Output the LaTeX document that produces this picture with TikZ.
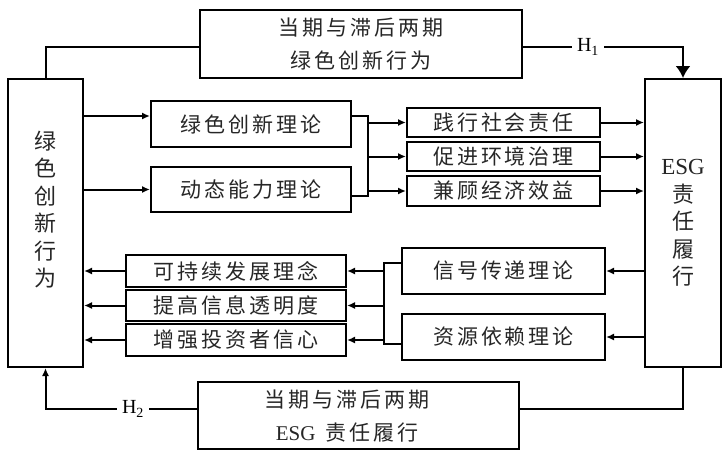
\documentclass[tikz,border=0pt]{standalone}
\usepackage{fontspec}
\setmainfont{Liberation Serif}
\newfontfamily\cjk[LetterSpace=14]{Noto Sans CJK SC}
\newfontfamily\cjkv{Noto Sans CJK SC}
\usetikzlibrary{arrows.meta}

\begin{document}
\begin{tikzpicture}[x=1pt,y=-1pt,
  box/.style={draw, line width=2pt, inner sep=0pt},
  txt/.style={font=\fontsize{21}{33}\cjk, align=center, text=black!85},
  vtxt/.style={font=\fontsize{22}{27.5}\cjkv, align=center, text=black!85},
  link/.style={line width=2pt},
  arr/.style={line width=2pt, -{Latex[length=8pt,width=7pt]}},
  bigarr/.style={line width=2pt, -{Latex[length=12pt,width=15pt]}},
  hlab/.style={font=\fontsize{20}{20}\selectfont, inner sep=5pt}]
  \clip (0,0) rectangle (723,453);

  \node[box, minimum width=75pt, minimum height=288pt] (gi) at (45.5,223) {};
  \node[vtxt] (gitext) at (45.5,209.5) {绿\\色\\创\\新\\行\\为};
  \node[box, vtxt, minimum width=76pt, minimum height=288pt] (esg) at (683,223) {{\fontsize{23}{27.5}\rmfamily ESG}\\责\\任\\履\\行};

  \node[box, txt, minimum width=322pt, minimum height=68pt] (lagg) at (361,44) {当期与滞后两期\\绿色创新行为};
  \node[box, minimum width=321pt, minimum height=67pt] (lage) at (358.5,415.5) {};
  \node[txt] (lagetext) at (347,416.5) {当期与滞后两期\\\textrm{ESG}\hspace{10pt}责任履行};

  \node[box, txt, minimum width=200pt, minimum height=46pt] (gt) at (251,124) {绿色创新理论};
  \node[box, txt, minimum width=200pt, minimum height=45pt] (dc) at (251,189.5) {动态能力理论};

  \node[box, txt, minimum width=193pt, minimum height=29pt] (sr) at (503.5,122.5) {践行社会责任};
  \node[box, txt, minimum width=193pt, minimum height=29pt] (eg) at (503.5,156.5) {促进环境治理};
  \node[box, txt, minimum width=193pt, minimum height=30pt] (ee) at (503.5,191) {兼顾经济效益};

  \node[box, txt, minimum width=203pt, minimum height=46pt] (st) at (503.5,271) {信号传递理论};
  \node[box, txt, minimum width=203pt, minimum height=46pt] (rd) at (503.5,337) {资源依赖理论};

  \node[box, txt, minimum width=220pt, minimum height=32pt] (sd) at (236,271) {可持续发展理念};
  \node[box, txt, minimum width=220pt, minimum height=31pt] (it) at (236,305.5) {提高信息透明度};
  \node[box, txt, minimum width=220pt, minimum height=32pt] (ic) at (236,340) {增强投资者信心};

  \node[hlab] (h1) at (588,47) {H\textsubscript{1}};
  \node[hlab] (h2) at (133,409) {H\textsubscript{2}};

  \coordinate (j1) at (368,157);
  \coordinate (j2) at (384,304);

  \draw[link] (gi.north) |- (lagg.west |- h1);
  \draw[link] (lagg.east |- h1) -- (h1.west);
  \draw[bigarr] (h1.east) -| (esg.north);

  \draw[arr] ([yshift=8pt]gi.east |- gt) -- ([yshift=8pt]gt.west);
  \draw[arr] (gi.east |- dc) -- (dc.west);
  \draw[link] ([yshift=8pt]gt.east) -| (j1) |- ([yshift=-6pt]dc.east);
  \foreach \b in {sr,eg,ee} \draw[arr] (j1 |- \b.west) -- (\b.west);
  \foreach \b in {sr,eg,ee} \draw[arr] (\b.east) -- (esg.west |- \b.east);

  \draw[arr] (esg.west |- st) -- (st.east);
  \draw[arr] (esg.west |- rd) -- (rd.east);
  \draw[link] ([yshift=8pt]st.west) -| (j2) |- ([yshift=-7pt]rd.west);
  \foreach \b in {sd,it,ic} \draw[arr] (j2 |- \b.east) -- (\b.east);
  \foreach \b in {sd,it,ic} \draw[arr] (\b.west) -- (gi.east |- \b.west);

  \draw[link] (esg.south) |- (lage.east |- h2);
  \draw[link] (lage.west |- h2) -- (h2.east);
  \draw[arr] (h2.west) -| (gi.south);
\end{tikzpicture}
\end{document}
